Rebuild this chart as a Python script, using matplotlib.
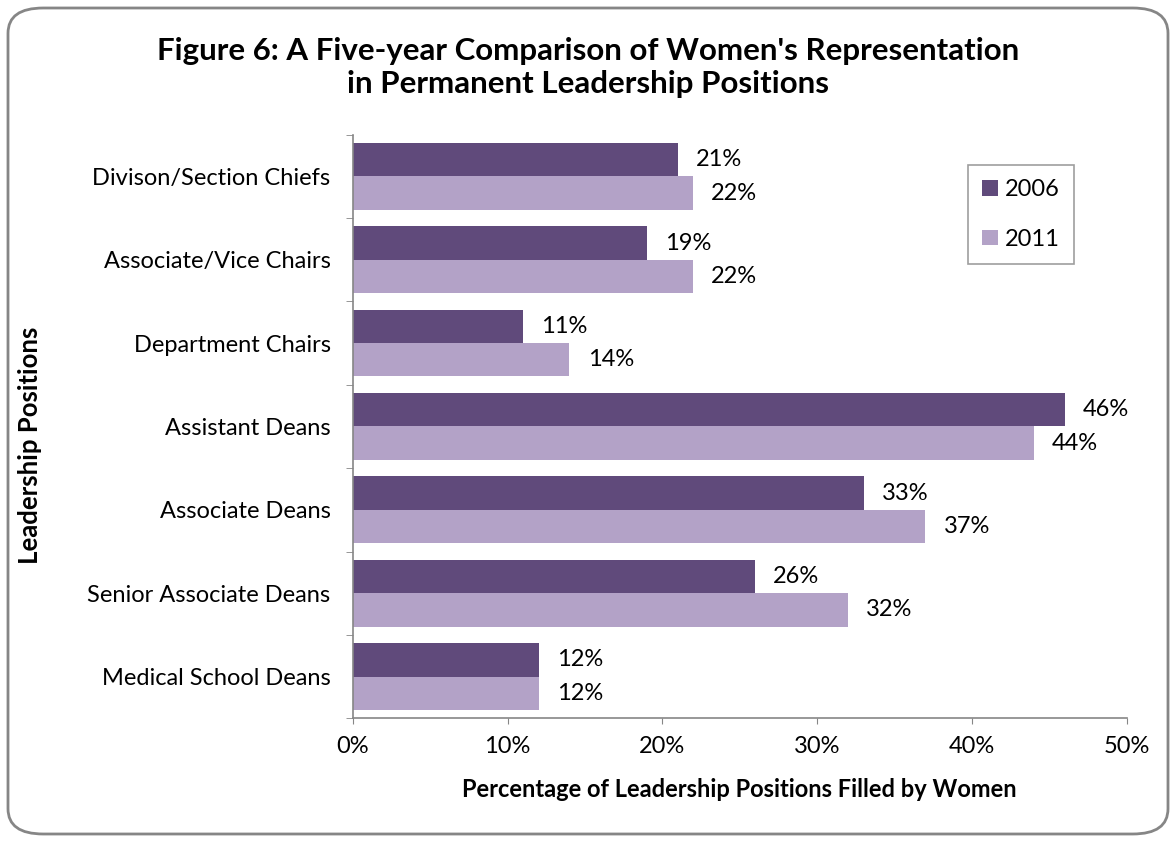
import numpy as np
import matplotlib.pyplot as plt
from matplotlib.patches import FancyBboxPatch
from matplotlib.ticker import PercentFormatter

plt.rcParams['font.family'] = ['Lato', 'DejaVu Sans']

positions = ["Divison/Section Chiefs", "Associate/Vice Chairs", "Department Chairs",
             "Assistant Deans", "Associate Deans", "Senior Associate Deans",
             "Medical School Deans"]
pct_2006 = [21, 19, 11, 46, 33, 26, 12]
pct_2011 = [22, 22, 14, 44, 37, 32, 12]

dark = "#604A7B"
light = "#B3A2C7"
grey = "#868686"

fig = plt.figure(figsize=(11.76, 8.42), dpi=100)
border = FancyBboxPatch((8 / 1176, 8 / 842), 1160 / 1176, 826 / 842,
                        boxstyle="round,pad=0,rounding_size=0.03",
                        transform=fig.transFigure, fill=False,
                        edgecolor=grey, linewidth=2)
fig.patches.append(border)

ax = fig.add_axes([0.300, 0.147, 0.658, 0.693])
y = np.arange(len(positions))
h = 0.4
b1 = ax.barh(y - h / 2, pct_2006, height=h, color=dark, label="2006")
b2 = ax.barh(y + h / 2, pct_2011, height=h, color=light, label="2011")

for bars, vals in ((b1, pct_2006), (b2, pct_2011)):
    for bar, v in zip(bars, vals):
        ax.annotate(f"{v}%", (bar.get_width(), bar.get_y() + bar.get_height() / 2),
                    xytext=(13, 0), textcoords="offset points",
                    va="center", ha="left", fontsize=17)

ax.set_ylim(len(positions) - 0.5, -0.5)
ax.set_xlim(0, 50)
ax.set_yticks(y)
ax.set_yticklabels(positions, fontsize=17)
ax.set_yticks(np.arange(-0.5, len(positions)), minor=True)
ax.tick_params(axis='y', which='major', length=0, pad=16)
ax.tick_params(axis='y', which='minor', length=5, color=grey)
ax.set_xticks(np.arange(0, 51, 10))
ax.xaxis.set_major_formatter(PercentFormatter(decimals=0))
ax.tick_params(axis='x', labelsize=17, length=4, color=grey, pad=9)

for s in ("top", "right"):
    ax.spines[s].set_visible(False)
for s in ("left", "bottom"):
    ax.spines[s].set_color(grey)
    ax.spines[s].set_linewidth(1.2)

ax.set_xlabel("Percentage of Leadership Positions Filled by Women",
              fontsize=17, fontweight="bold", labelpad=15)
fig.text(0.0255, 0.471, "Leadership Positions", rotation=90, fontsize=18.5,
         fontweight="bold", ha="center", va="center")

fig.text(0.5, 0.92, "Figure 6: A Five-year Comparison of Women's Representation\nin Permanent Leadership Positions",
         ha="center", va="center", fontsize=22.5, fontweight="bold", linespacing=1.22)

leg = ax.legend(loc="upper left", bbox_to_anchor=(0.78, 0.968), fontsize=17,
                frameon=True, fancybox=False, edgecolor=grey,
                handlelength=0.65, handleheight=0.65, labelspacing=1.2,
                handletextpad=0.3, borderpad=0.6)
leg.get_frame().set_linewidth(1.2)

fig.savefig("out.png", dpi=100)
